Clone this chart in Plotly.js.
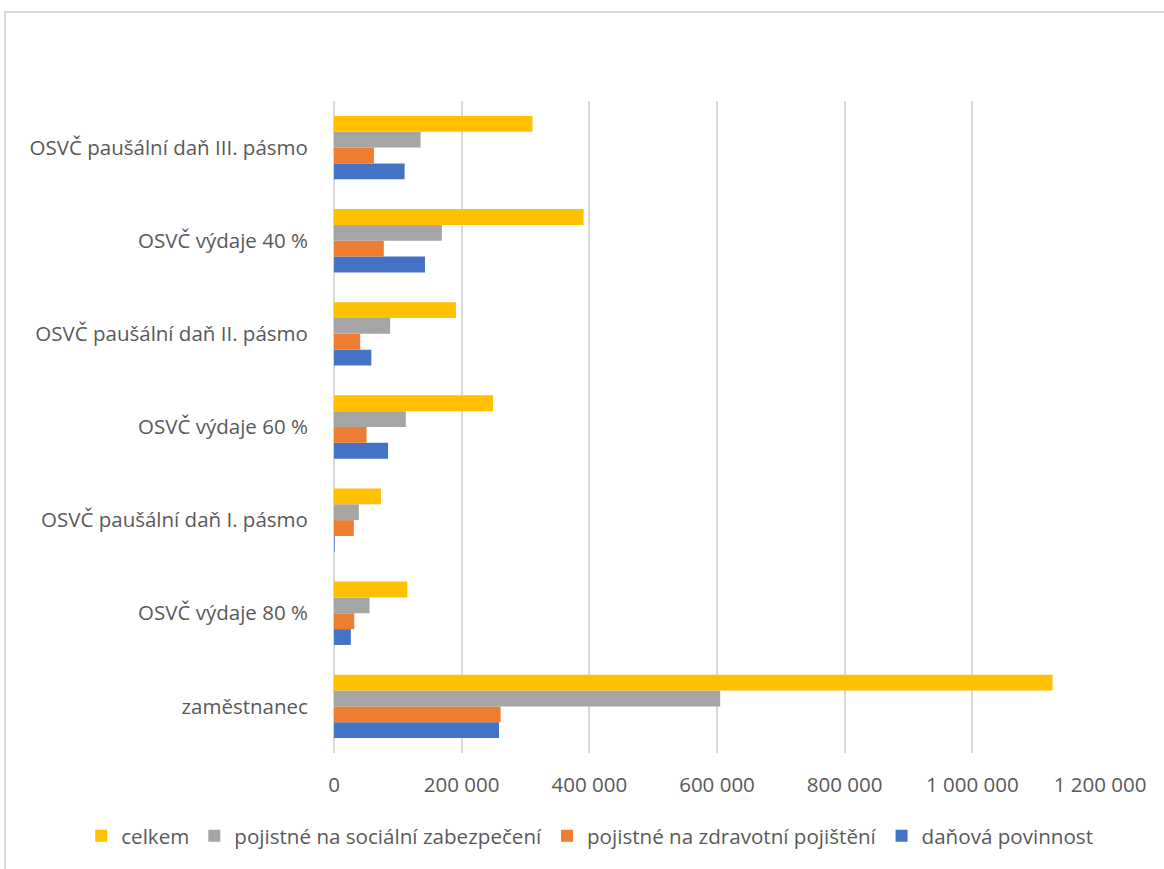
<!DOCTYPE html>
<html>
<head>
<meta charset="utf-8">
<script src="https://cdn.plot.ly/plotly-3.0.1.min.js"></script>
<style>
  html, body { margin: 0; padding: 0; background: #fff; }
  #chart { width: 1164px; height: 869px; }
  #frame { position: absolute; left: 4px; top: 11px; width: 1200px; height: 900px;
           border-left: 2px solid #d9d9d9; border-top: 2px solid #d9d9d9; pointer-events: none; }
</style>
</head>
<body>
<div id="chart"></div>
<div id="frame"></div>
<script>
const categories = [
  'zaměstnanec',
  'OSVČ výdaje 80 %',
  'OSVČ paušální daň I. pásmo',
  'OSVČ výdaje 60 %',
  'OSVČ paušální daň II. pásmo',
  'OSVČ výdaje 40 %',
  'OSVČ paušální daň III. pásmo'
];
const danovaPovinnost = [258500, 26400, 1000, 84700, 58500, 142500, 110600];
const zdravotni       = [261000, 31700, 31000, 51000, 41000, 78000, 62500];
const socialni        = [605000, 55700, 39000, 112500, 88000, 169000, 135700];
const celkem          = [1125700, 115000, 73500, 249000, 191000, 391000, 311000];

const seriesNames = ['daňová povinnost', 'pojistné na zdravotní pojištění', 'pojistné na sociální zabezpečení', 'celkem'];
const seriesValues = [danovaPovinnost, zdravotni, socialni, celkem];
const seriesColors = ['#4472c4', '#ed7d31', '#a5a5a5', '#ffc000'];

const tickValues = [0, 200000, 400000, 600000, 800000, 1000000, 1200000];
const tickLabels = ['0', '200 000', '400 000', '600 000', '800 000', '1 000 000', '1 200 000'];

const traces = seriesNames.map((n, i) => ({
  type: 'bar',
  orientation: 'h',
  name: n,
  y: categories,
  x: seriesValues[i],
  marker: { color: seriesColors[i], line: { width: 0 } },
  hoverinfo: 'x+name'
}));

const font = "'Open Sans', 'Noto Sans', sans-serif";

const layout = {
  width: 1164,
  height: 869,
  margin: { l: 334, r: 64, t: 101, b: 116, pad: 0 },
  paper_bgcolor: '#ffffff',
  plot_bgcolor: '#ffffff',
  barmode: 'group',
  bargap: 0.32,
  bargroupgap: 0,
  showlegend: true,
  legend: {
    orientation: 'h',
    traceorder: 'reversed',
    x: -0.33,
    xanchor: 'left',
    y: -0.127,
    yanchor: 'middle',
    font: { family: font, size: 20.6, color: '#595959' },
    itemwidth: 30,
    tracegroupgap: 0
  },
  xaxis: {
    range: [0, 1200000],
    tickvals: tickValues,
    ticktext: tickLabels,
    showgrid: true,
    gridcolor: '#d9d9d9',
    gridwidth: 2,
    zeroline: true,
    zerolinecolor: '#d9d9d9',
    zerolinewidth: 2,
    showline: false,
    ticks: 'outside',
    ticklen: 13,
    tickcolor: 'rgba(0,0,0,0)',
    tickfont: { family: font, size: 20.5, color: '#595959' },
    automargin: false,
    fixedrange: true
  },
  yaxis: {
    type: 'category',
    categoryorder: 'array',
    categoryarray: categories,
    showgrid: false,
    showline: false,
    zeroline: false,
    ticks: 'outside',
    ticklen: 21,
    tickcolor: 'rgba(0,0,0,0)',
    tickfont: { family: font, size: 20.5, color: '#595959' },
    automargin: false,
    fixedrange: true
  }
};

Plotly.newPlot('chart', traces, layout, { displayModeBar: false, staticPlot: true });
</script>
</body>
</html>
